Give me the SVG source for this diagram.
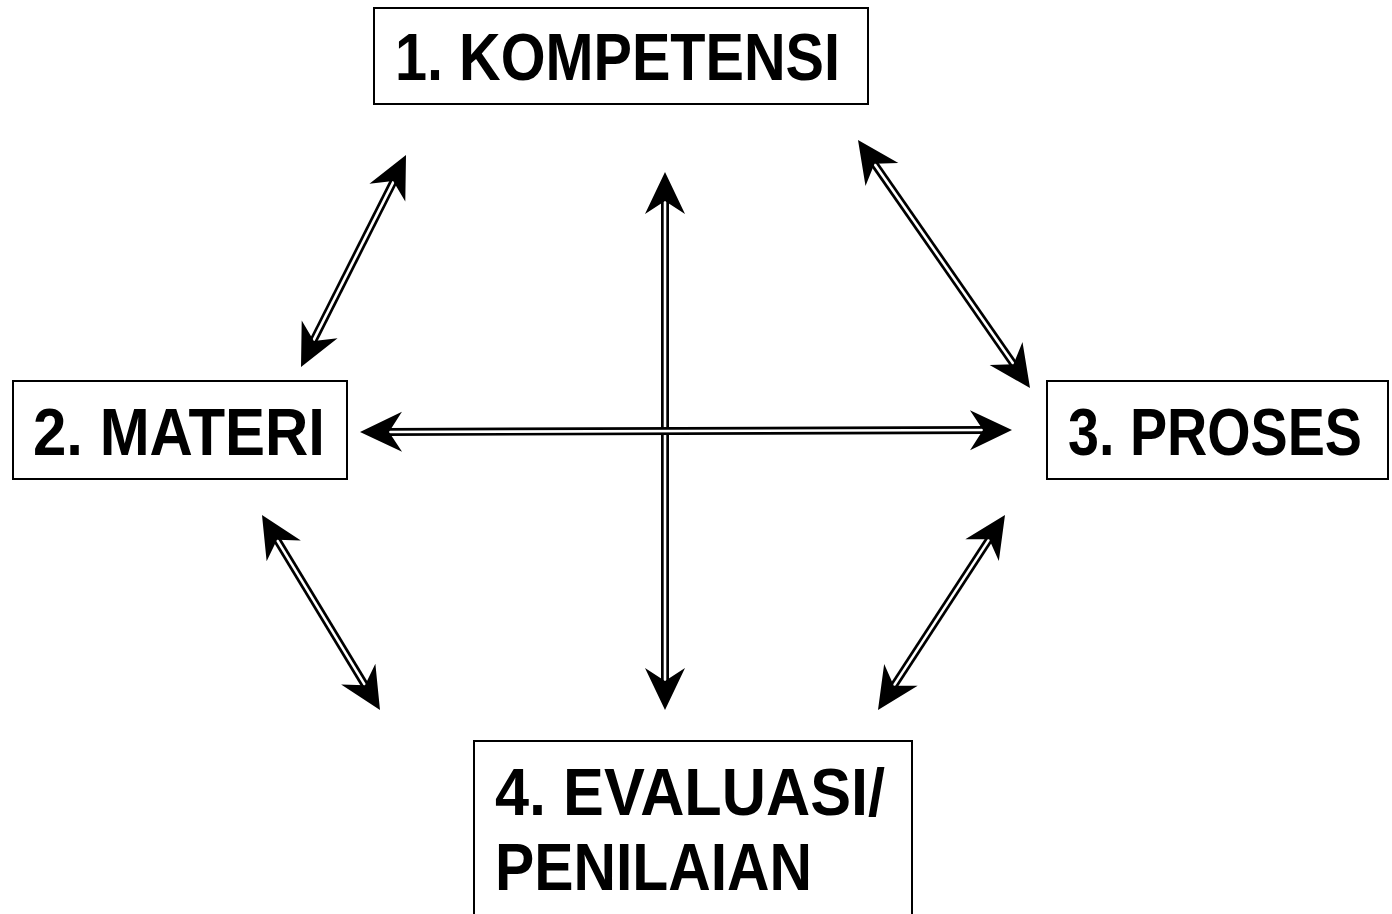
<svg xmlns="http://www.w3.org/2000/svg" width="1392" height="914" viewBox="0 0 1392 914">
<style>
.box{fill:#fff;stroke:#000;stroke-width:2}
.lbl{font-family:"Liberation Sans","DejaVu Sans",sans-serif;font-weight:bold;font-size:66px;fill:#000}
.outer{stroke:#000;stroke-width:8;fill:none}
.inner{stroke:#fff;stroke-width:2.6;fill:none}
.tips{stroke:none;fill:none;marker-start:url(#head);marker-end:url(#head)}
</style>
<defs>
<marker id="head" markerUnits="userSpaceOnUse" markerWidth="50" markerHeight="50" viewBox="-45 -25 50 50" refX="0" refY="0" orient="auto-start-reverse">
<path d="M0,0 L-42,-20 L-29,0 L-42,20 Z" fill="#000"/>
</marker>
</defs>
<rect width="1392" height="914" fill="#fff"/>
<g id="connectors">
<g id="c1"><path class="outer" d="M311.3,344.7 L395.7,177.3"/><path class="inner" d="M311.3,344.7 L395.7,177.3"/><path class="tips" d="M301,367 L406,155"/></g>
<g id="c2"><path class="outer" d="M665,197 L665,685"/><path class="inner" d="M665,197 L665,685"/><path class="tips" d="M665,172 L665,710"/></g>
<g id="c3"><path class="outer" d="M872.1,160.6 L1015.9,367.4"/><path class="inner" d="M872.1,160.6 L1015.9,367.4"/><path class="tips" d="M858,140 L1030,388"/></g>
<g id="c4"><path class="outer" d="M385,432 L987,430"/><path class="inner" d="M385,432 L987,430"/><path class="tips" d="M360,432 L1012,430"/></g>
<g id="c5"><path class="outer" d="M274.9,536.4 L367.1,688.6"/><path class="inner" d="M274.9,536.4 L367.1,688.6"/><path class="tips" d="M262,515 L380,710"/></g>
<g id="c6"><path class="outer" d="M991.4,535.9 L891.6,689.1"/><path class="inner" d="M991.4,535.9 L891.6,689.1"/><path class="tips" d="M1005,515 L878,710"/></g>
</g>
<g id="n1"><rect class="box" x="374" y="8" width="494" height="96"/><text class="lbl" x="395" y="80" textLength="445" lengthAdjust="spacingAndGlyphs">1. KOMPETENSI</text></g>
<g id="n2"><rect class="box" x="13" y="381" width="334" height="98"/><text class="lbl" x="33" y="455" textLength="292" lengthAdjust="spacingAndGlyphs">2. MATERI</text></g>
<g id="n3"><rect class="box" x="1047" y="381" width="341" height="98"/><text class="lbl" x="1068" y="455" textLength="294" lengthAdjust="spacingAndGlyphs">3. PROSES</text></g>
<g id="n4"><rect class="box" x="474" y="741" width="438" height="200"/><text class="lbl" x="495" y="815" textLength="390" lengthAdjust="spacingAndGlyphs">4. EVALUASI/</text><text class="lbl" x="495" y="890" textLength="317" lengthAdjust="spacingAndGlyphs">PENILAIAN</text></g>
</svg>
